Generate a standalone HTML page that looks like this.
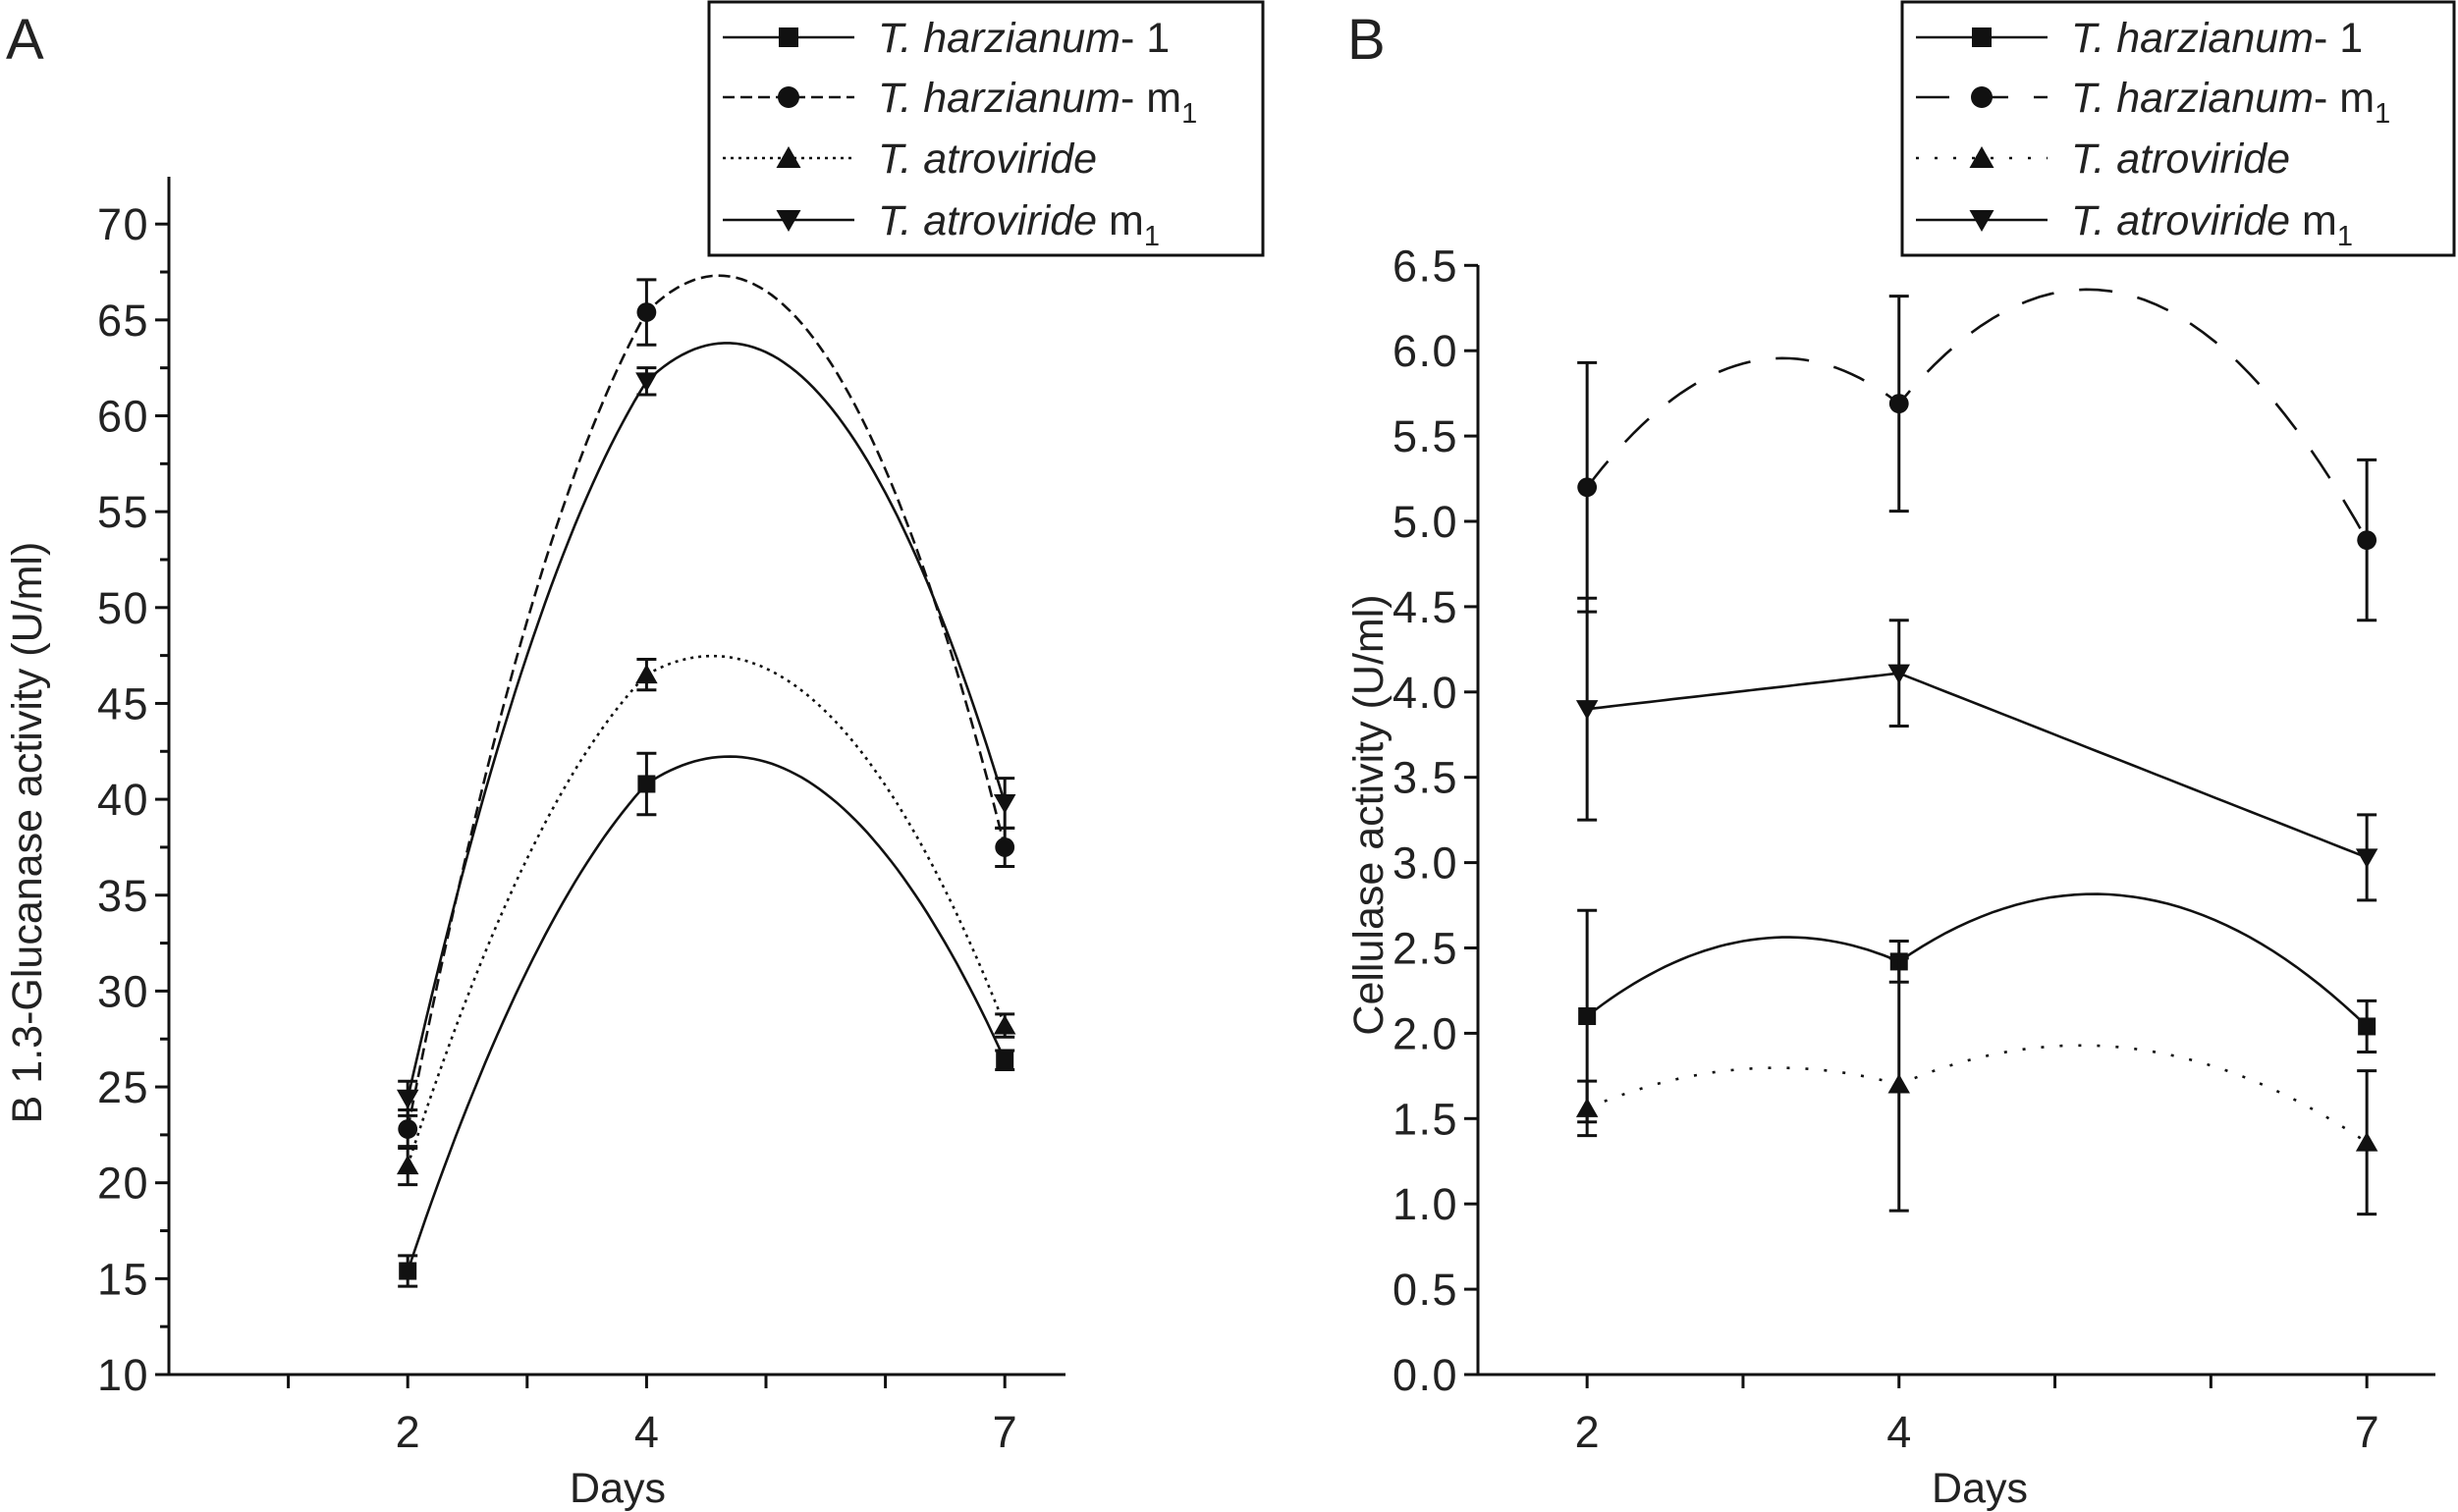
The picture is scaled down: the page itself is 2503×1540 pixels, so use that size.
<!DOCTYPE html>
<html><head><meta charset="utf-8"><style>
html,body{margin:0;padding:0;background:#fff}
svg{display:block}
text{font-family:"Liberation Sans",Arial,sans-serif;fill:#222}
</style></head><body>
<svg id="chart" width="2503" height="1540" viewBox="0 0 2503 1540" xmlns="http://www.w3.org/2000/svg">
<text x="6" y="60" font-size="58">A</text>
<text x="1372" y="60" font-size="58">B</text>
<g id="pa"></g>
<g id="pb"></g>
</svg>
<script>
const days = [2, 4, 7];
const seriesNames = ["T. harzianum- 1", "T. harzianum- m1", "T. atroviride", "T. atroviride m1"];
// Panel A: B 1,3-glucanase activity
const aH1 = [15.4, 40.8, 26.4];
const aH1Err = [0.8, 1.6, 0.5];
const aHm1 = [22.8, 65.4, 37.5];
const aHm1Err = [1.0, 1.7, 1.0];
const aA = [20.9, 46.5, 28.2];
const aAErr = [1.0, 0.8, 0.6];
const aAm1 = [24.4, 61.8, 39.8];
const aAm1Err = [0.9, 0.7, 1.3];
const aTicks = [10, 15, 20, 25, 30, 35, 40, 45, 50, 55, 60, 65, 70];
// Panel B: cellulase activity
const bH1 = [2.1, 2.42, 2.04];
const bH1Err = [0.62, 0.12, 0.15];
const bHm1 = [5.2, 5.69, 4.89];
const bHm1Err = [0.73, 0.63, 0.47];
const bA = [1.56, 1.7, 1.36];
const bAErr = [0.16, 0.74, 0.42];
const bAm1 = [3.9, 4.11, 3.03];
const bAm1Err = [0.65, 0.31, 0.25];
const bH1Bulge = [0.28, 0.57];
const bHm1Bulge = [0.48, 1.03];
const bABulge = [0.16, 0.38];
const bAm1Bulge = [0, 0];
const bTicks = [0.0, 0.5, 1.0, 1.5, 2.0, 2.5, 3.0, 3.5, 4.0, 4.5, 5.0, 5.5, 6.0, 6.5];

const NS = "http://www.w3.org/2000/svg";
function mk(parent, tag, attrs) {
  const e = document.createElementNS(NS, tag);
  for (const k in attrs) e.setAttribute(k, attrs[k]);
  parent.appendChild(e);
  return e;
}
function marker(g, type, cx, cy, s) {
  let m;
  if (type === 0) m = mk(g, "rect", {x: cx - s, y: cy - s, width: 2 * s, height: 2 * s, fill: "#111"});
  else if (type === 1) m = mk(g, "circle", {cx: cx, cy: cy, r: s * 1.1, fill: "#111"});
  else if (type === 2) m = mk(g, "path", {d: `M${cx - s * 1.25},${cy + s} L${cx + s * 1.25},${cy + s} L${cx},${cy - s * 1.2} Z`, fill: "#111"});
  else m = mk(g, "path", {d: `M${cx - s * 1.25},${cy - s} L${cx + s * 1.25},${cy - s} L${cx},${cy + s * 1.2} Z`, fill: "#111"});
  return m;
}

function panel(cfg) {
  const g = document.getElementById(cfg.id);
  const X = d => cfg.x0 + (d - cfg.d0) * cfg.dx;
  const Y = v => cfg.yb - (v - cfg.vmin) * cfg.vy;
  const ax = mk(g, "path", {d: `M${cfg.x0},${cfg.ytop} L${cfg.x0},${cfg.yb} L${cfg.xend},${cfg.yb}`, fill: "none", stroke: "#111", "stroke-width": 3});
  
  
  cfg.yticks.forEach(t => {
    const y = Y(t);
    const tk = mk(g, "line", {x1: cfg.x0 - 14, x2: cfg.x0, y1: y, y2: y, stroke: "#111", "stroke-width": 3});
    
    
    const lb = mk(g, "text", {x: cfg.x0 - 20, y: y + 16, "font-size": 45, "text-anchor": "end", "letter-spacing": 1.5});
    lb.textContent = cfg.fmt(t);
    
    
    if (cfg.minorY) {
      const y2 = Y(t + cfg.minorY);
      if (y2 >= cfg.ytop) {
        const mt = mk(g, "line", {x1: cfg.x0 - 9, x2: cfg.x0, y1: y2, y2: y2, stroke: "#111", "stroke-width": 3});
        
        
      }
    }
  });
  cfg.xticks.forEach(d => {
    const x = X(d);
    const major = days.includes(d);
    const tk = mk(g, "line", {x1: x, x2: x, y1: cfg.yb, y2: cfg.yb + 14, stroke: "#111", "stroke-width": 3});
    
    
    if (major) {
      const lb = mk(g, "text", {x: x, y: cfg.yb + 74, "font-size": 45, "text-anchor": "middle"});
      lb.textContent = d;
      
      
    }
  });
  const xt = mk(g, "text", {x: cfg.xTitleX, y: 1530, "font-size": 43, "text-anchor": "middle"});
  xt.textContent = "Days";
  
  
  const yt = mk(g, "text", {x: 0, y: 0, "font-size": 43, "text-anchor": "middle", transform: `translate(${cfg.yTitleX},${cfg.yTitleY}) rotate(-90)`});
  yt.textContent = cfg.yTitle;
  
  

  cfg.series.forEach((s, si) => {
    const sg = mk(g, "g", {});
    
    
    let d = "";
    if (cfg.mode === "quad") {
      const [x0, x1, x2] = days, [y0, y1, y2] = s.v;
      const f = x => y0 * (x - x1) * (x - x2) / ((x0 - x1) * (x0 - x2)) + y1 * (x - x0) * (x - x2) / ((x1 - x0) * (x1 - x2)) + y2 * (x - x0) * (x - x1) / ((x2 - x0) * (x2 - x1));
      const lin = x => x <= x1 ? y0 + (y1 - y0) * (x - x0) / (x1 - x0) : y1 + (y2 - y1) * (x - x1) / (x2 - x1);
      for (let i = 0; i <= 100; i++) {
        const x = x0 + (x2 - x0) * i / 100;
        const v = lin(x) + 0.85 * (f(x) - lin(x));
        d += (i ? "L" : "M") + X(x).toFixed(1) + "," + Y(v).toFixed(1);
      }
    } else {
      for (let k = 0; k < days.length - 1; k++) {
        for (let i = 0; i <= 40; i++) {
          const t = i / 40;
          const x = days[k] + (days[k + 1] - days[k]) * t;
          const v = s.v[k] + (s.v[k + 1] - s.v[k]) * t + 4 * t * (1 - t) * s.bulge[k];
          d += ((k === 0 && i === 0) ? "M" : "L") + X(x).toFixed(1) + "," + Y(v).toFixed(1);
        }
      }
    }
    const ln = mk(sg, "path", {d: d, fill: "none", stroke: "#111", "stroke-width": 2.6, "stroke-dasharray": s.dash});
    
    
    days.forEach((dd, i) => {
      const x = X(dd), v = s.v[i], e = s.err[i];
      const eb = mk(sg, "path", {d: `M${x},${Y(v + e)} L${x},${Y(v - e)} M${x - 10},${Y(v + e)} L${x + 10},${Y(v + e)} M${x - 10},${Y(v - e)} L${x + 10},${Y(v - e)}`, stroke: "#111", "stroke-width": 3, fill: "none"});
      
      
      const m = marker(sg, si, x, Y(v), 9);
      
      
    });
  });

  const lg = mk(g, "g", {});
  
  
  const box = mk(lg, "rect", {x: cfg.lx, y: 2, width: cfg.lw, height: 258, fill: "#fff", stroke: "#111", "stroke-width": 3});
  
  
  const ys = [38, 99, 161, 224];
  cfg.series.forEach((s, si) => {
    const eg = mk(lg, "g", {});
    
    
    const y = ys[si];
    mk(eg, "line", {x1: cfg.lx + 14, x2: cfg.lx + 148, y1: y, y2: y, stroke: "#111", "stroke-width": 2.6, "stroke-dasharray": s.dash});
    marker(eg, si, cfg.lx + 81, y, 10);
    const tx = mk(eg, "text", {x: cfg.lx + 172, y: y + 15, "font-size": 43});
    if (si === 0) tx.innerHTML = '<tspan font-style="italic">T. harzianum</tspan>- 1';
    else if (si === 1) tx.innerHTML = '<tspan font-style="italic">T. harzianum</tspan>- m<tspan font-size="29" dy="11">1</tspan>';
    else if (si === 2) tx.innerHTML = '<tspan font-style="italic">T. atroviride</tspan>';
    else tx.innerHTML = '<tspan font-style="italic">T. atroviride</tspan> m<tspan font-size="29" dy="11">1</tspan>';
    
    
  });
}

panel({
  id: "pa", mode: "quad", x0: 172, d0: 0, dx: 121.6, xend: 1085, yb: 1400, ytop: 180, vmin: 10, vy: 19.53,
  yticks: aTicks, minorY: 2.5, xticks: [1, 2, 3, 4, 5, 6, 7], fmt: t => String(t),
  xTitleX: 629, yTitle: "B 1.3-Glucanase activity  (U/ml)", yTitleX: 42, yTitleY: 848,
  lx: 722, lw: 564,
  series: [
    {v: aH1, err: aH1Err, dash: "none"},
    {v: aHm1, err: aHm1Err, dash: "12 6"},
    {v: aA, err: aAErr, dash: "3 5"},
    {v: aAm1, err: aAm1Err, dash: "none"}
  ]
});
panel({
  id: "pb", mode: "bulge", x0: 1505, d0: 1.3, dx: 158.8, xend: 2480, yb: 1400, ytop: 270, vmin: 0, vy: 173.8,
  yticks: bTicks, minorY: 0, xticks: [2, 3, 4, 5, 6, 7], fmt: t => t.toFixed(1),
  xTitleX: 2016, yTitle: "Cellulase activity (U/ml)", yTitleX: 1408, yTitleY: 830,
  lx: 1937, lw: 562,
  series: [
    {v: bH1, err: bH1Err, bulge: bH1Bulge, dash: "none"},
    {v: bHm1, err: bHm1Err, bulge: bHm1Bulge, dash: "34 26"},
    {v: bA, err: bAErr, bulge: bABulge, dash: "3 16"},
    {v: bAm1, err: bAm1Err, bulge: bAm1Bulge, dash: "none"}
  ]
});
</script>
</body></html>
